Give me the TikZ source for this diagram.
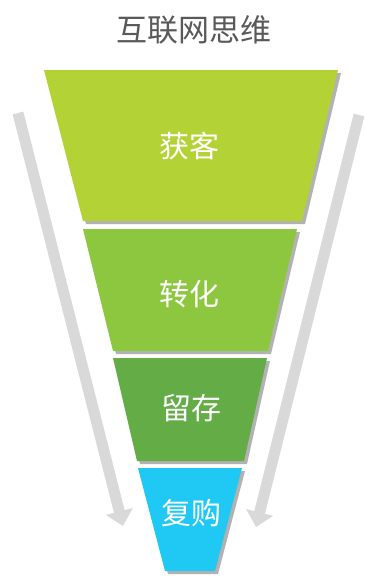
\documentclass[tikz,border=0pt]{standalone}
\usepackage{fontspec}
\newfontfamily\cjk{Noto Sans CJK SC}
\usetikzlibrary{shadows,arrows.meta}
\definecolor{c1}{HTML}{B2D235}
\definecolor{c2}{HTML}{8DC63F}
\definecolor{c3}{HTML}{63AC46}
\definecolor{c4}{HTML}{1FC9F3}
\definecolor{arrgray}{HTML}{D9D9D9}
\definecolor{titlegray}{HTML}{595959}
\tikzset{
  layer/.style={drop shadow={shadow xshift=3pt,shadow yshift=-3pt,opacity=0.3,fill=black}},
  lab/.style={text=white,font=\cjk\fontsize{30}{32}\selectfont,inner sep=0pt},
  flowarrow/.style={draw=arrgray,line width=11pt,-{Triangle[width=27pt,length=15pt]}}
}
\begin{document}
\begin{tikzpicture}[x=1pt,y=-1pt]
\useasboundingbox (0,0) rectangle (365,576);
% arrows
\coordinate (la) at (18,113);
\coordinate (lb) at (123,526);
\coordinate (ra) at (359,115);
\coordinate (rb) at (256,527);
\draw[flowarrow] (la) -- (lb);
\draw[flowarrow] (ra) -- (rb);
% funnel layers
\fill[c1,layer] (44,70) -- (338,70) -- (302,221) -- (83,221) -- cycle;
\fill[c2,layer] (83,229) -- (297,229) -- (268,351) -- (113,351) -- cycle;
\fill[c3,layer] (113,358) -- (267,358) -- (244,461) -- (137,461) -- cycle;
\fill[c4,layer] (138,468) -- (242,468) -- (215,571) -- (165,571) -- cycle;
% labels
\node[lab] (l1) at (189,146) {获客};
\node[lab] (l2) at (189,294) {转化};
\node[lab] (l3) at (191,408) {留存};
\node[lab] (l4) at (191,513) {复购};
\node[text=titlegray,font=\cjk\fontsize{31}{33}\selectfont,inner sep=0pt] (title) at (194,30) {互联网思维};
\end{tikzpicture}
\end{document}
